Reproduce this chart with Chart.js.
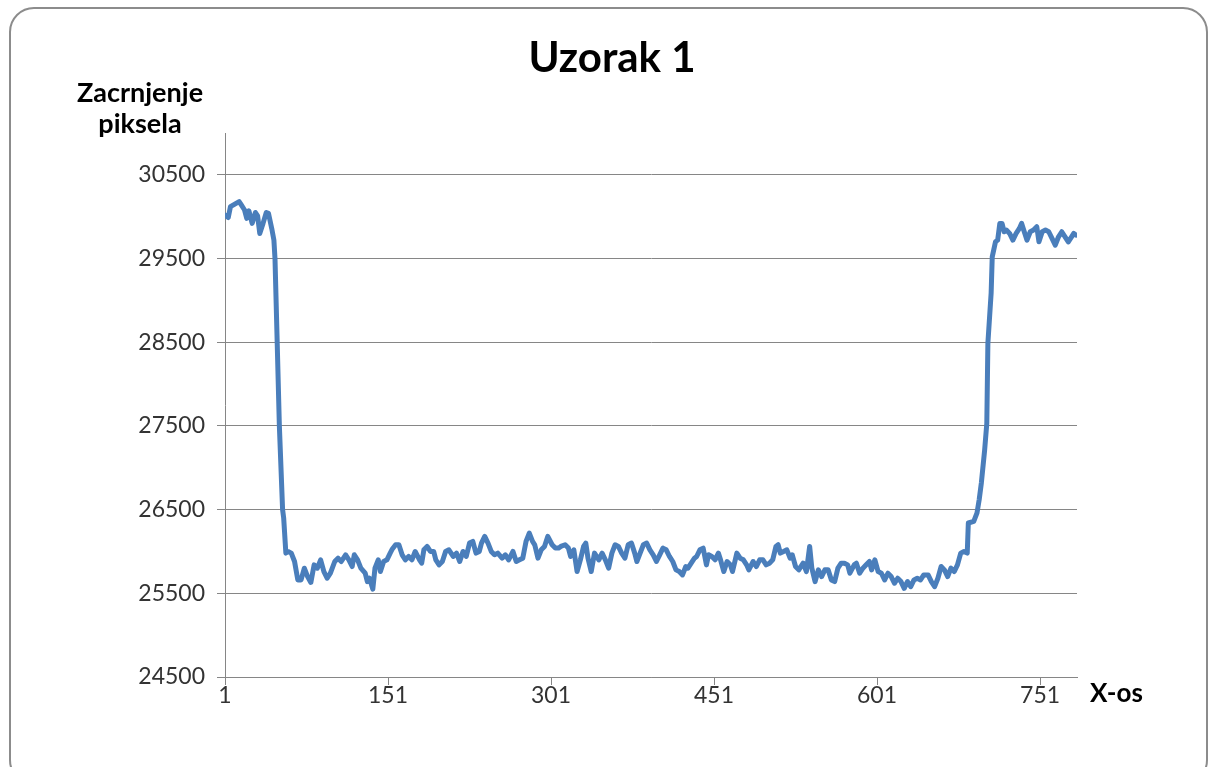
<!DOCTYPE html>
<html>
<head>
<meta charset="utf-8">
<title>Uzorak 1</title>
<script src="https://cdn.jsdelivr.net/npm/chart.js@4.4.0/dist/chart.umd.min.js"></script>
<style>
    html, body { margin: 0; padding: 0; background: #ffffff; }
    #chart { display: block; }
</style>
</head>
<body>
<canvas id="chart" width="1211" height="767"></canvas>
<script>
// naslov i oznake osi
const chartTitle = 'Uzorak 1';
const yAxisTitle = ['Zacrnjenje', 'piksela'];
const xAxisTitle = 'X-os';

// oznake na osima
const xTicks = [1, 151, 301, 451, 601, 751];
const yTicks = [24500, 25500, 26500, 27500, 28500, 29500, 30500];

// polozaj na x osi (redni broj stupca piksela)
const pointIndex = [
    1, 4, 6, 10, 14, 16, 19, 21, 23, 26, 29, 31, 33, 36, 39, 41, 44, 46, 47, 49,
    51, 54, 55, 57, 59, 62, 65, 68, 71, 74, 77, 80, 83, 86, 89, 92, 95, 98, 102, 105,
    108, 112, 115, 118, 120, 123, 126, 130, 132, 134, 137, 139, 142, 144, 147, 150, 153, 155, 158, 161,
    164, 167, 170, 173, 176, 180, 182, 184, 187, 190, 193, 195, 198, 201, 204, 207, 211, 214, 217, 220,
    223, 226, 229, 232, 235, 237, 240, 243, 246, 249, 252, 256, 259, 262, 266, 269, 272, 275, 278, 281,
    284, 286, 289, 292, 295, 298, 302, 305, 308, 310, 314, 317, 319, 322, 325, 328, 331, 333, 335, 338,
    341, 345, 348, 351, 354, 357, 360, 363, 366, 369, 372, 375, 378, 380, 383, 386, 389, 392, 395, 398,
    401, 404, 407, 410, 413, 416, 419, 422, 425, 427, 430, 433, 435, 438, 441, 444, 446, 449, 452, 455,
    457, 460, 463, 466, 468, 472, 475, 478, 481, 483, 487, 490, 493, 496, 499, 502, 505, 508, 510, 512,
    515, 518, 521, 523, 526, 529, 533, 536, 539, 541, 544, 547, 550, 553, 556, 559, 562, 565, 568, 571,
    574, 576, 580, 582, 585, 588, 591, 594, 596, 599, 602, 605, 608, 611, 614, 617, 620, 623, 626, 629,
    632, 635, 638, 641, 644, 648, 651, 654, 657, 660, 663, 666, 669, 672, 675, 678, 681, 684, 685, 690,
    693, 695, 697, 700, 702, 703, 706, 707, 710, 712, 714, 716, 718, 720, 723, 726, 729, 732, 734, 737,
    739, 742, 745, 748, 750, 753, 756, 759, 762, 765, 768, 771, 774, 777, 780, 782, 784
];

// zacrnjenje piksela
const pointValue = [
    30020, 29990, 30120, 30150, 30180, 30140, 30080, 29980, 30070, 29920, 30050, 30010, 29800, 29920, 30050, 30040, 29860, 29720, 29500, 28510,
    27510, 26500, 26400, 25980, 26000, 25980, 25880, 25660, 25660, 25800, 25700, 25630, 25840, 25800, 25900, 25760, 25680, 25740, 25880, 25920,
    25880, 25960, 25900, 25820, 25960, 25900, 25800, 25740, 25640, 25680, 25550, 25800, 25900, 25760, 25880, 25900, 25980, 26030, 26080, 26080,
    25960, 25900, 25940, 25900, 26000, 25900, 25860, 26020, 26060, 26000, 26000, 25900, 25840, 25880, 26000, 26020, 25940, 25980, 25880, 26000,
    25940, 26100, 26120, 25980, 26000, 26100, 26180, 26100, 26000, 25960, 25980, 25920, 25960, 25900, 26000, 25880, 25900, 25920, 26120, 26220,
    26120, 26080, 25920, 26020, 26060, 26180, 26080, 26040, 26040, 26060, 26080, 26040, 25940, 26020, 25760, 25900, 26060, 26100, 25920, 25760,
    25980, 25900, 25980, 25900, 25800, 25980, 26080, 26060, 25980, 25920, 26080, 26100, 25980, 25880, 25980, 26080, 26100, 26020, 25960, 25880,
    25960, 26040, 26020, 25940, 25880, 25780, 25760, 25720, 25820, 25800, 25860, 25920, 25940, 26020, 26040, 25840, 25960, 25940, 25900, 25980,
    25900, 25760, 25880, 25840, 25760, 25980, 25920, 25900, 25840, 25780, 25880, 25820, 25900, 25900, 25840, 25860, 25900, 26060, 26080, 25980,
    26000, 26020, 25920, 25960, 25820, 25780, 25860, 25760, 26060, 25800, 25640, 25780, 25700, 25780, 25780, 25660, 25640, 25800, 25860, 25860,
    25840, 25740, 25840, 25860, 25740, 25800, 25840, 25880, 25780, 25900, 25760, 25740, 25660, 25740, 25700, 25620, 25680, 25640, 25560, 25640,
    25580, 25660, 25680, 25660, 25720, 25720, 25640, 25580, 25680, 25820, 25780, 25700, 25800, 25760, 25840, 25980, 26000, 25980, 26340, 26360,
    26460, 26620, 26820, 27210, 27530, 28490, 29090, 29520, 29700, 29720, 29920, 29920, 29820, 29840, 29800, 29720, 29800, 29860, 29920, 29800,
    29720, 29820, 29840, 29880, 29700, 29820, 29840, 29820, 29740, 29660, 29760, 29820, 29760, 29700, 29760, 29800, 29780
];

const gridGray = '#868686';
const textColor = '#333333';

// okvir grafikona i tekstovi
const decorPlugin = {
    id: 'decor',
    beforeDraw(chart) {
        const ctx = chart.ctx;
        ctx.save();
        ctx.fillStyle = '#ffffff';
        ctx.fillRect(0, 0, chart.width, chart.height);
        ctx.strokeStyle = '#8c8c8c';
        ctx.lineWidth = 2;
        ctx.beginPath();
        ctx.roundRect(10, 8, 1197, 776, 24);
        ctx.stroke();
        ctx.restore();
    },
    afterDraw(chart) {
        const ctx = chart.ctx;
        ctx.save();
        ctx.fillStyle = '#000000';
        ctx.textBaseline = 'alphabetic';

        ctx.textAlign = 'center';
        ctx.font = 'bold 42px Lato';
        ctx.fillText(chartTitle, 612, 72);

        ctx.font = 'bold 27px Lato';
        ctx.fillText(yAxisTitle[0], 140, 102);
        ctx.fillText(yAxisTitle[1], 140, 133);

        ctx.textAlign = 'left';
        ctx.font = 'bold 26px Lato';
        ctx.fillText(xAxisTitle, 1090, 702);
        ctx.restore();
    }
};

const points = pointIndex.map((x, i) => ({ x: x, y: pointValue[i] }));

new Chart(document.getElementById('chart'), {
    type: 'line',
    data: {
        datasets: [{
            data: points,
            borderColor: '#4a7ebb',
            borderWidth: 5,
            borderJoinStyle: 'round',
            borderCapStyle: 'round',
            pointRadius: 0,
            tension: 0,
            fill: false
        }]
    },
    options: {
        responsive: false,
        animation: false,
        devicePixelRatio: 1,
        layout: { padding: { left: 0, top: 133, right: 134, bottom: 0 } },
        plugins: {
            legend: { display: false },
            title: { display: false },
            tooltip: { enabled: false }
        },
        scales: {
            x: {
                type: 'linear',
                min: 1,
                max: 785,
                afterBuildTicks: scale => { scale.ticks = xTicks.map(v => ({ value: v })); },
                afterFit: scale => { scale.height = 90; },
                grid: { drawOnChartArea: false, color: gridGray, tickLength: 8 },
                border: { color: gridGray, width: 1 },
                ticks: {
                    padding: -3,
                    maxRotation: 0,
                    autoSkip: false,
                    color: textColor,
                    font: { family: 'Lato', size: 23 },
                    callback: v => String(v)
                }
            },
            y: {
                type: 'linear',
                min: 24500,
                max: 31000,
                afterBuildTicks: scale => { scale.ticks = yTicks.map(v => ({ value: v })); },
                afterFit: scale => { scale.width = 225; },
                grid: { color: gridGray, lineWidth: 1, tickLength: 8 },
                border: { color: gridGray, width: 1 },
                ticks: {
                    padding: 12,
                    color: textColor,
                    font: { family: 'Lato', size: 23 },
                    callback: v => String(v)
                }
            }
        }
    },
    plugins: [decorPlugin]
});
</script>
</body>
</html>
